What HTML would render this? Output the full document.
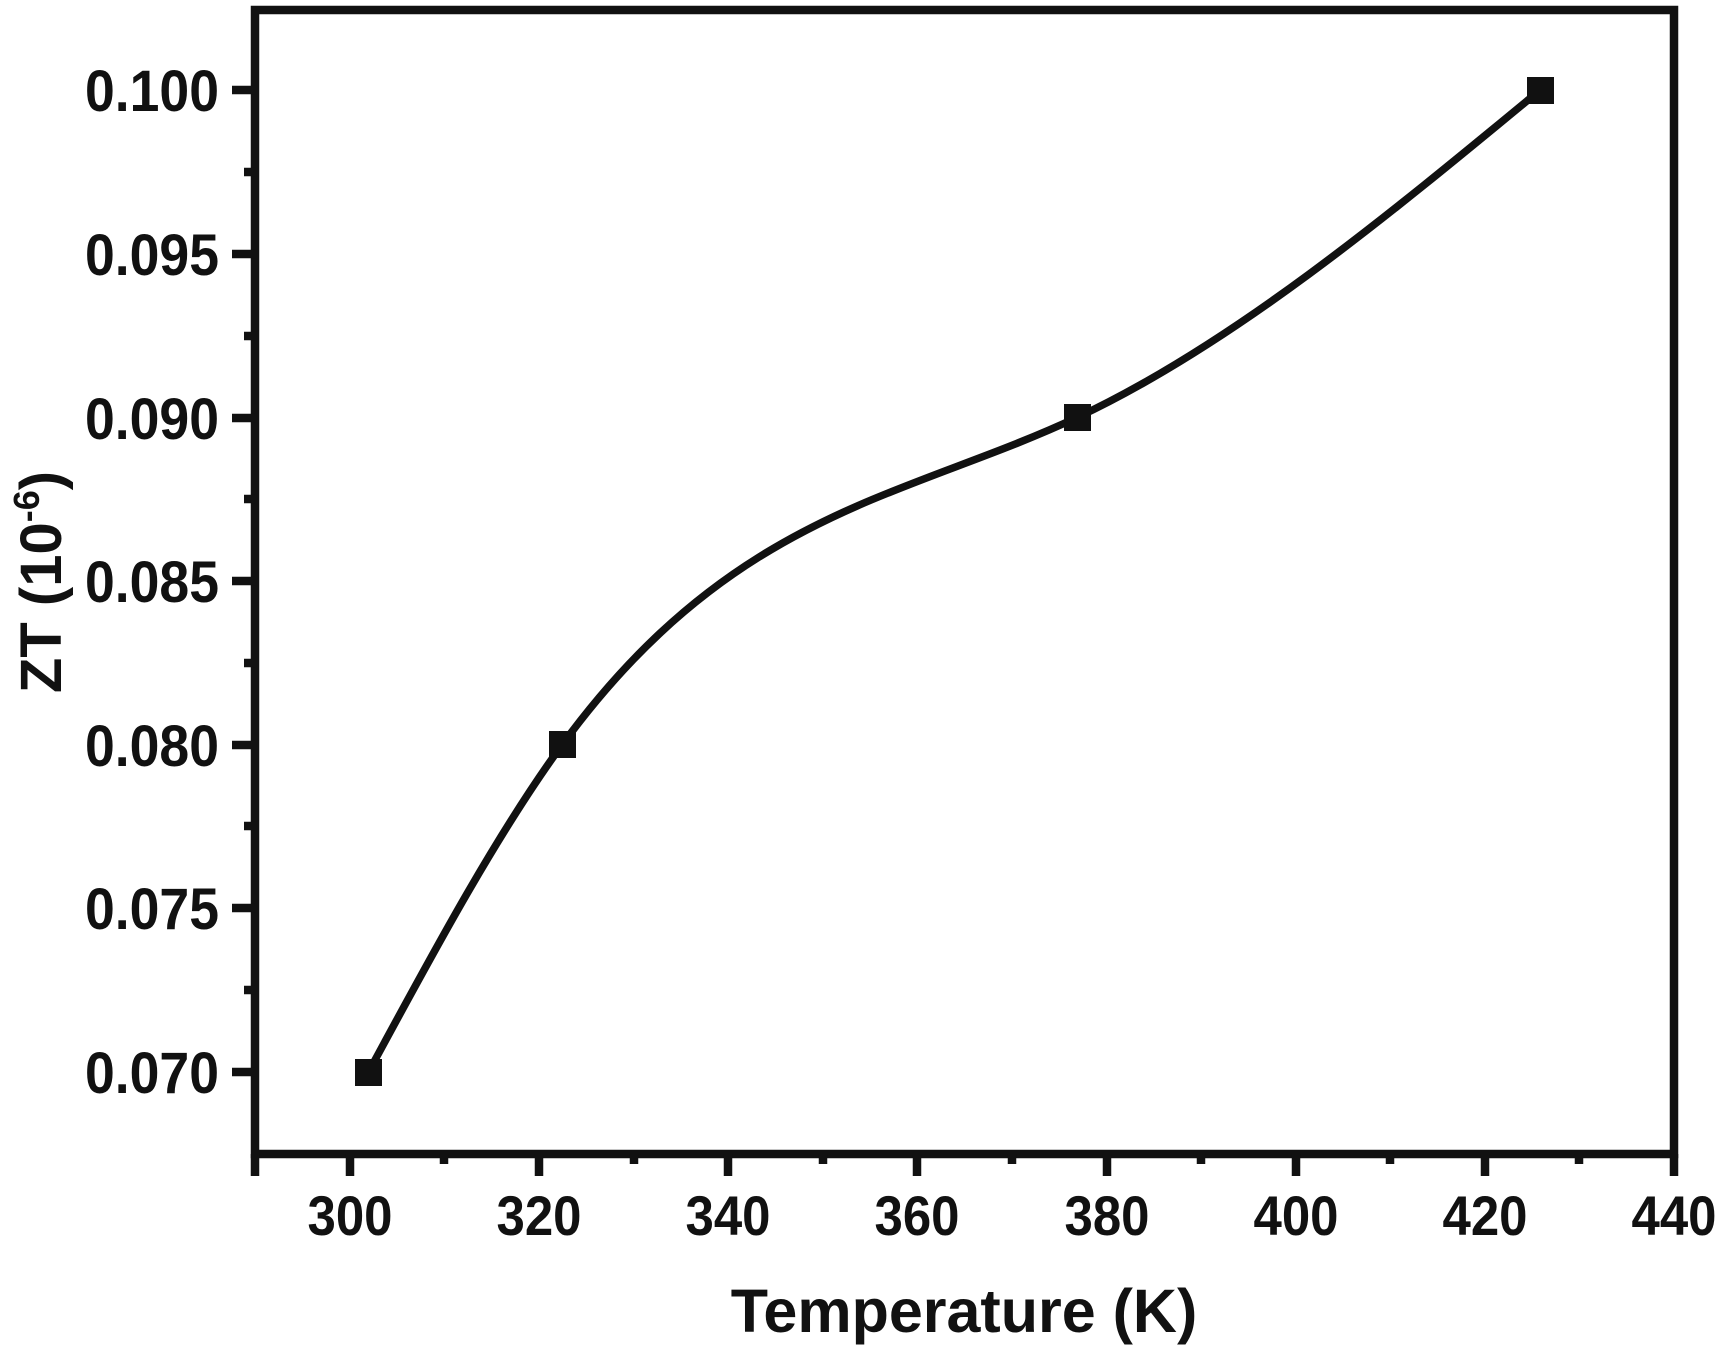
<!DOCTYPE html>
<html><head><meta charset="utf-8"><style>
html,body{margin:0;padding:0;background:#fff;}
svg{display:block;}
text{font-family:"Liberation Sans",Arial,sans-serif;font-weight:bold;fill:#111;}
</style></head><body>
<svg width="1722" height="1349" viewBox="0 0 1722 1349" xmlns="http://www.w3.org/2000/svg">
<g stroke="#111" stroke-width="8.5" fill="none">
<rect x="255" y="10" width="1419" height="1144"/>
<path d="M232 90H255M232 254H255M232 418H255M232 581H255M232 745H255M232 908H255M232 1072H255"/>
<path d="M244 172H255M244 336H255M244 499H255M244 663H255M244 826H255M244 990H255"/>
<path d="M350 1154V1176M539 1154V1176M728 1154V1176M917 1154V1176M1107 1154V1176M1296 1154V1176M1485 1154V1176M1674 1154V1176M255 1154V1176"/>
<path d="M444 1154V1164M634 1154V1164M823 1154V1164M1012 1154V1164M1201 1154V1164M1390 1154V1164M1579 1154V1164"/>
</g>
<path d="M368.4 1072.2 C433 952.6 497.5 833 562.1 744.8 C733.8 510.3 905.5 498 1077.2 417.4 C1231.5 345 1385.9 217.5 1540.2 90" stroke="#111" stroke-width="7.5" fill="none"/>
<g fill="#111">
<rect x="355" y="1059" width="27" height="27"/>
<rect x="549" y="731" width="27" height="27"/>
<rect x="1064" y="404" width="27" height="27"/>
<rect x="1527" y="77" width="27" height="27"/>
</g>
<g font-size="58" text-anchor="end">
<text x="219" y="111" textLength="134" lengthAdjust="spacingAndGlyphs">0.100</text>
<text x="219" y="275" textLength="134" lengthAdjust="spacingAndGlyphs">0.095</text>
<text x="219" y="439" textLength="134" lengthAdjust="spacingAndGlyphs">0.090</text>
<text x="219" y="602" textLength="134" lengthAdjust="spacingAndGlyphs">0.085</text>
<text x="219" y="766" textLength="134" lengthAdjust="spacingAndGlyphs">0.080</text>
<text x="219" y="929" textLength="134" lengthAdjust="spacingAndGlyphs">0.075</text>
<text x="219" y="1093" textLength="134" lengthAdjust="spacingAndGlyphs">0.070</text>
</g>
<g font-size="56" text-anchor="middle">
<text x="350" y="1235" textLength="85" lengthAdjust="spacingAndGlyphs">300</text>
<text x="539" y="1235" textLength="85" lengthAdjust="spacingAndGlyphs">320</text>
<text x="728" y="1235" textLength="85" lengthAdjust="spacingAndGlyphs">340</text>
<text x="917" y="1235" textLength="85" lengthAdjust="spacingAndGlyphs">360</text>
<text x="1107" y="1235" textLength="85" lengthAdjust="spacingAndGlyphs">380</text>
<text x="1296" y="1235" textLength="85" lengthAdjust="spacingAndGlyphs">400</text>
<text x="1485" y="1235" textLength="85" lengthAdjust="spacingAndGlyphs">420</text>
<text x="1674" y="1235" textLength="85" lengthAdjust="spacingAndGlyphs">440</text>
</g>
<text x="964" y="1332" font-size="61" text-anchor="middle">Temperature (K)</text>
<text transform="translate(61,582) rotate(-90)" font-size="58" text-anchor="middle">ZT (10<tspan font-size="36" dy="-22">-6</tspan><tspan dy="22">)</tspan></text>
</svg>
</body></html>
